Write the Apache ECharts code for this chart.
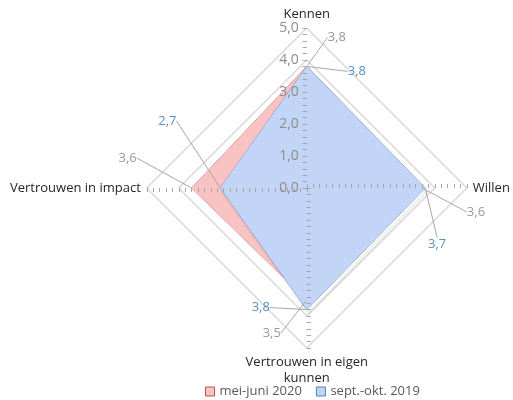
<!DOCTYPE html>
<html>
<head>
<meta charset="utf-8">
<script src="https://cdn.jsdelivr.net/npm/echarts@6/dist/echarts.min.js"></script>
<style>
  html, body { margin: 0; padding: 0; background: #fff; }
  #chart { width: 513px; height: 400px; }
</style>
</head>
<body>
<div id="chart"></div>
<script>
// indicators, clockwise from top
const indicators = ['Kennen', 'Willen', 'Vertrouwen in eigen\nkunnen', 'Vertrouwen in impact']
const seriesNames = ['mei-juni 2020', 'sept.-okt. 2019']
const mei2020 = [3.8, 3.6, 3.5, 3.6]
const sept2019 = [3.8, 3.7, 3.8, 2.7]
const axisMax = 5

// label offsets (label centre relative to its point), same order as indicators
const offsets = [
  [[30, -29], [54, 24], [-35, 33], [-64, -30]],
  [[50, 5], [12, 56], [-46, -2], [-53, -67]]
]

const center = ['59.8%', '47%']
const radius = 160
const fontFamily = '"Open Sans", sans-serif'

// radar goes counter-clockwise, so reorder to keep Kennen top, Willen right
const radarOrder = [0, 3, 2, 1]
const reorder = arr => radarOrder.map(i => arr[i])

const chart = echarts.init(document.getElementById('chart'))

const angles = [0, 90, 180, 270]   // clockwise from top
const startAngles = [90, 0, 270, 180]
const polar = []
const angleAxis = []
const radiusAxis = []
// one polar per axis side, so ticks cross the (hidden) axis line
startAngles.forEach((sa, d) => {
  ;[false, true].forEach(inside => {
    const idx = polar.length
    polar.push({ center: center, radius: radius })
    angleAxis.push({
      polarIndex: idx, type: 'value', min: 0, max: 360, startAngle: sa,
      axisLine: { show: false }, axisTick: { show: false },
      axisLabel: { show: false }, splitLine: { show: false }
    })
    radiusAxis.push({
      polarIndex: idx, type: 'value', min: 0, max: axisMax, interval: 1, z: 4,
      axisLine: { show: false },
      axisTick: { show: true, inside: inside, length: 4, lineStyle: { color: '#a6a6a6' } },
      minorTick: { show: true, splitNumber: 5, length: 4, lineStyle: { color: '#a6a6a6' } },
      splitLine: { show: false },
      axisLabel: {
        show: d === 0 && !inside,
        color: '#8c8c8c', fontSize: 14, fontFamily: fontFamily, margin: 8,
        formatter: v => v.toFixed(1).replace('.', ',')
      }
    })
  })
})

function labelSeries(values, s, color) {
  return {
    type: 'scatter',
    coordinateSystem: 'polar',
    polarIndex: 0,
    symbolSize: 2,
    itemStyle: { color: 'transparent' },
    silent: true,
    z: 5,
    data: values.map((v, i) => [v, angles[i]]),
    label: {
      show: true, position: 'inside', color: color, fontSize: 13, fontFamily: fontFamily,
      formatter: p => p.value[0].toFixed(1).replace('.', ',')
    },
    labelLayout: p => ({ dx: offsets[s][p.dataIndex][0], dy: offsets[s][p.dataIndex][1] }),
    labelLine: { show: true, lineStyle: { color: '#a6a6a6', width: 1 } }
  }
}

chart.setOption({
  animation: false,
  legend: {
    data: [
      { name: seriesNames[0], itemStyle: { color: '#f9c3c3', borderColor: '#c0504d', borderWidth: 1 } },
      { name: seriesNames[1], itemStyle: { color: '#c3d5f6', borderColor: '#4f81bd', borderWidth: 1 } }
    ],
    left: 200, bottom: -3,
    icon: 'rect', itemWidth: 9, itemHeight: 9, itemGap: 14,
    textStyle: { color: '#595959', fontSize: 13, fontFamily: fontFamily }
  },
  radar: {
    center: center,
    radius: radius,
    startAngle: 90,
    splitNumber: 5,
    shape: 'polygon',
    indicator: reorder(indicators).map(n => ({ name: n, min: 0, max: axisMax })),
    axisName: { color: '#262626', fontSize: 13, fontFamily: fontFamily, lineHeight: 16 },
    nameGap: 6,
    axisLine: { show: false },
    axisTick: { show: false },
    axisLabel: { show: false },
    splitArea: { show: false },
    splitLine: { lineStyle: { color: '#d9d9d9', width: 1.5 } }
  },
  polar: polar,
  angleAxis: angleAxis,
  radiusAxis: radiusAxis,
  series: [
    {
      type: 'radar',
      symbol: 'none',
      z: 2,
      data: [
        {
          name: seriesNames[0], value: reorder(mei2020),
          lineStyle: { color: '#c87c80', width: 1 },
          itemStyle: { color: '#f7b9b9', borderColor: '#c87c80' },
          areaStyle: { color: '#f9c3c3', opacity: 1 }
        },
        {
          name: seriesNames[1], value: reorder(sept2019),
          lineStyle: { color: '#7d90c4', width: 1, shadowColor: 'rgba(0,0,0,0.3)', shadowBlur: 3, shadowOffsetX: 2, shadowOffsetY: 3 },
          itemStyle: { color: '#b9cdf6', borderColor: '#7d90c4' },
          areaStyle: { color: '#c3d5f6', opacity: 1 }
        }
      ]
    },
    labelSeries(mei2020, 0, '#808080'),
    labelSeries(sept2019, 1, '#2e75b6')
  ]
})
</script>
</body>
</html>
